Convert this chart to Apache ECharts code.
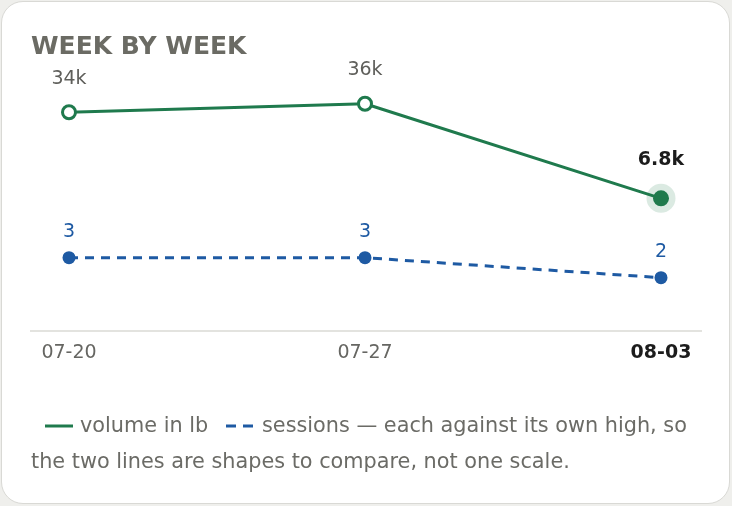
<!DOCTYPE html>
<html><head><meta charset="utf-8">
<script src="https://cdn.jsdelivr.net/npm/echarts@6/dist/echarts.min.js"></script>
<style>
html,body{margin:0;padding:0;background:#efefec;width:732px;height:506px;overflow:hidden;}
.card{position:absolute;left:1px;top:1px;width:727px;height:501px;background:#fff;border:1.5px solid #d9d9d5;border-radius:22px;}
#c{position:absolute;left:0;top:0;width:732px;height:506px;}
</style>
</head><body><div class="card"></div><div id="c"></div>
<script>
const titleText = 'WEEK BY WEEK';
const weeks = ['07-20', '07-27', '08-03'];
const volumeLb = [33600, 36250, 6800];
const sessions = [3, 3, 2];
const seriesNames = ['volume in lb', 'sessions'];
const noteLine1 = '— each against its own high, so';
const noteLine2 = 'the two lines are shapes to compare, not one scale.';

const G = '#1f7a4d';
const B = '#1e5aa3';
const FONT = 'DejaVu Sans';
const last = weeks.length - 1;

function fmtK(v) {
  return v >= 10000 ? Math.round(v / 1000) + 'k' : (v / 1000).toFixed(1) + 'k';
}

const chart = echarts.init(document.getElementById('c'), null, {renderer: 'canvas'});
chart.setOption({
  backgroundColor: 'transparent',
  animation: false,
  title: {
    text: titleText, left: 26, top: 30,
    textStyle: {fontFamily: FONT, fontWeight: 'bold', fontSize: 25, color: '#6b6b64'}
  },
  grid: {left: 69, right: 71, top: 60, bottom: 175},
  xAxis: {
    type: 'category', boundaryGap: false, data: weeks,
    axisLine: {show: false}, axisTick: {show: false}, splitLine: {show: false},
    axisLabel: {
      interval: 0, margin: 13, fontFamily: FONT, fontSize: 19, color: '#666662',
      formatter: (v, i) => i === last ? '{b|' + v + '}' : v,
      rich: {b: {fontFamily: FONT, fontSize: 19, fontWeight: 'bold', color: '#1c1c1c'}}
    }
  },
  yAxis: [
    {type: 'value', show: false, min: -34500, max: 49870, splitLine: {show: false}},
    {type: 'value', show: false, min: -0.665, max: 12.885, splitLine: {show: false}}
  ],
  series: [
    {
      type: 'line', name: seriesNames[0], yAxisIndex: 0, z: 4,
      data: volumeLb.map((v, i) => i === last ? {
        value: v, symbolSize: 16,
        itemStyle: {color: G, borderColor: 'rgba(31,122,77,0.16)', borderWidth: 13},
        label: {color: '#1c1c1c', fontWeight: 'bold', distance: 14.5}
      } : v),
      symbol: 'circle', symbolSize: 13, showAllSymbol: true,
      itemStyle: {color: '#fff', borderColor: G, borderWidth: 3},
      lineStyle: {color: G, width: 3},
      label: {show: true, position: 'top', distance: 16, fontFamily: FONT, fontSize: 19, color: '#5f5f5b',
        formatter: p => fmtK(p.value)}
    },
    {
      type: 'line', name: seriesNames[1], yAxisIndex: 1, z: 3,
      data: sessions,
      symbol: 'circle', symbolSize: 13, showAllSymbol: true,
      itemStyle: {color: B, borderWidth: 0},
      lineStyle: {color: B, width: 3, type: [9, 7]},
      label: {show: true, position: 'top', distance: 9.5, fontFamily: FONT, fontSize: 19, color: B,
        formatter: p => String(p.value)}
    }
  ],
  graphic: [
    {type: 'line', silent: true, shape: {x1: 30, y1: 331, x2: 702, y2: 331}, style: {stroke: '#e3e3df', lineWidth: 2}},
    {type: 'line', silent: true, shape: {x1: 45, y1: 426, x2: 73, y2: 426}, style: {stroke: G, lineWidth: 3}},
    {type: 'text', silent: true, x: 80, y: 427, style: {text: seriesNames[0], font: '20.8px "DejaVu Sans"', fill: '#6b6b66', verticalAlign: 'middle'}},
    {type: 'line', silent: true, shape: {x1: 226, y1: 426, x2: 253, y2: 426}, style: {stroke: B, lineWidth: 3, lineDash: [10, 7]}},
    {type: 'text', silent: true, x: 262, y: 427, style: {text: seriesNames[1] + ' ' + noteLine1, font: '20.8px "DejaVu Sans"', fill: '#6b6b66', verticalAlign: 'middle'}},
    {type: 'text', silent: true, x: 31, y: 463, style: {text: noteLine2, font: '20.8px "DejaVu Sans"', fill: '#6b6b66', verticalAlign: 'middle'}}
  ]
});
</script>
</body></html>
